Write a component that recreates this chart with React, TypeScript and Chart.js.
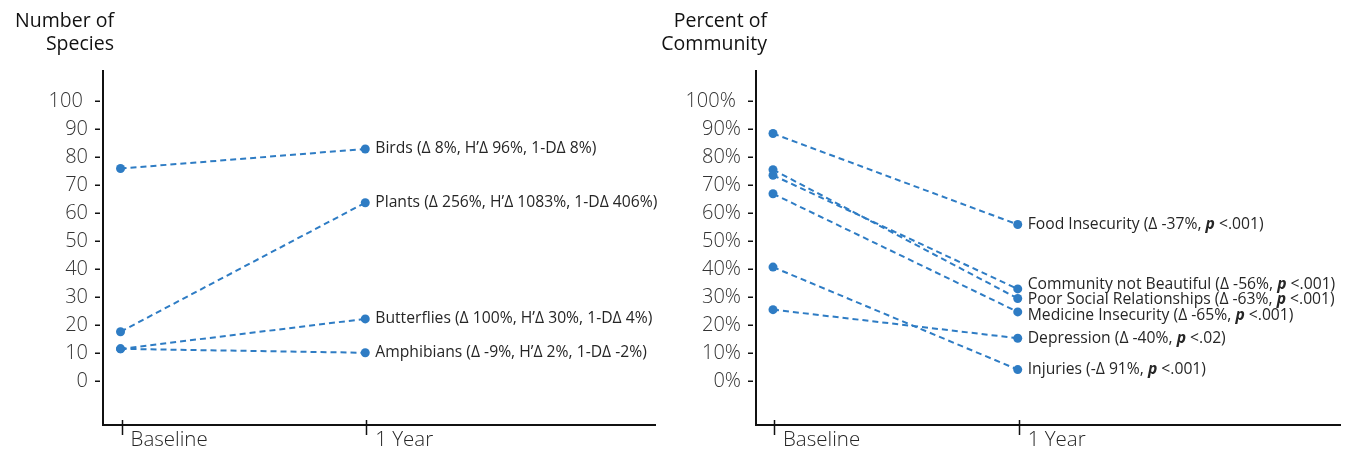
import React, { useEffect, useRef } from 'react';
import { Chart, registerables } from 'chart.js';

Chart.register(...registerables);

// ---------- data ----------
const periods = ['Baseline', '1 Year'];
const yTickValues = [0, 10, 20, 30, 40, 50, 60, 70, 80, 90, 100];

const speciesNames = ['Birds', 'Plants', 'Butterflies', 'Amphibians'];
const speciesBaseline = [76, 17.7, 11.6, 11.6];
const speciesYear1 = [83, 63.8, 22.3, 10.2];
const speciesNotes = [
  '(Δ 8%, H’Δ 96%, 1-DΔ 8%)',
  '(Δ 256%, H’Δ 1083%, 1-DΔ 406%)',
  '(Δ 100%, H’Δ 30%, 1-DΔ 4%)',
  '(Δ -9%, H’Δ 2%, 1-DΔ -2%)',
];

const communityNames = [
  'Food Insecurity',
  'Community not Beautiful',
  'Poor Social Relationships',
  'Medicine Insecurity',
  'Depression',
  'Injuries',
];
const communityBaseline = [88.5, 73.6, 75.6, 67.0, 25.6, 40.8];
const communityYear1 = [56.0, 33.0, 29.6, 24.8, 15.4, 4.2];
const communityDelta = ['Δ -37%', 'Δ -56%', 'Δ -63%', 'Δ -65%', 'Δ -40%', '-Δ 91%'];
const communityP = ['<.001', '<.001', '<.001', '<.001', '<.02', '<.001'];

// ---------- styles ----------
const BLUE = '#2E7CC4';
const FONT = '"Open Sans", "Noto Sans", sans-serif';

type Seg = { text: string; bold?: boolean; italic?: boolean };

function buildDatasets(base: number[], year: number[]) {
  return base.map((b, i) => ({
    data: [
      { x: 0, y: b },
      { x: 1, y: year[i] },
    ],
    showLine: true,
    borderColor: BLUE,
    backgroundColor: BLUE,
    borderWidth: 2,
    borderDash: [6, 4],
    pointRadius: 4.5,
    pointBackgroundColor: BLUE,
    pointBorderWidth: 0,
    clip: false as const,
  }));
}

function spreadLabels(ys: number[], gap: number): number[] {
  const order = ys.map((y, i) => ({ y, i })).sort((a, b) => a.y - b.y);
  let groups = order.map((o) => ({ members: [o], pos: [o.y] }));
  let changed = true;
  while (changed) {
    changed = false;
    for (let g = 0; g < groups.length - 1; g++) {
      const a = groups[g];
      const b = groups[g + 1];
      if (b.pos[0] - a.pos[a.pos.length - 1] < gap) {
        const members = [...a.members, ...b.members];
        const center = members.reduce((s, m) => s + m.y, 0) / members.length;
        const pos = members.map((_, k) => center + (k - (members.length - 1) / 2) * gap);
        groups.splice(g, 2, { members, pos });
        changed = true;
        break;
      }
    }
  }
  const out: number[] = new Array(ys.length);
  groups.forEach((g) => g.members.forEach((m, k) => (out[m.i] = g.pos[k])));
  return out;
}

function makeConfig(p: {
  base: number[];
  year: number[];
  labels: Seg[][];
  title: string[];
  tickLabel: (v: number) => string;
  axisWidth: number;
  padRight: number;
  xMin: number;
  xMax: number;
}) {
  const decor = {
    id: 'decor',
    beforeDatasetsDraw(chart: any) {
      const { ctx, chartArea } = chart;
      const xs = chart.scales.x;
      const ys = chart.scales.y;
      ctx.save();
      ctx.strokeStyle = '#111';
      ctx.lineWidth = 2;
      ctx.beginPath();
      ctx.moveTo(chartArea.left, chartArea.top);
      ctx.lineTo(chartArea.left, chartArea.bottom);
      ctx.lineTo(chartArea.right, chartArea.bottom);
      ctx.stroke();
      ctx.lineWidth = 1.5;
      ctx.beginPath();
      yTickValues.forEach((v) => {
        const py = Math.round(ys.getPixelForValue(v)) + 0.25;
        ctx.moveTo(chartArea.left - 8, py);
        ctx.lineTo(chartArea.left - 3, py);
      });
      [0, 1].forEach((v) => {
        const px = Math.round(xs.getPixelForValue(v)) + 1.5;
        ctx.moveTo(px, chartArea.bottom - 5);
        ctx.lineTo(px, chartArea.bottom + 10);
      });
      ctx.stroke();
      // axis title
      ctx.fillStyle = '#111';
      ctx.font = `19.5px ${FONT}`;
      ctx.textAlign = 'right';
      ctx.textBaseline = 'alphabetic';
      p.title.forEach((t, k) => ctx.fillText(t, chartArea.left + 11, 27 + k * 23));
      ctx.restore();
    },
    afterDatasetsDraw(chart: any) {
      const { ctx } = chart;
      const pts = p.labels.map((_, i) => chart.getDatasetMeta(i).data[1]);
      const yPos = spreadLabels(
        pts.map((pt: any) => pt.y),
        15.5
      );
      ctx.save();
      ctx.fillStyle = '#262626';
      ctx.textAlign = 'left';
      ctx.textBaseline = 'middle';
      p.labels.forEach((segs, i) => {
        let x = pts[i].x + 10;
        segs.forEach((s) => {
          ctx.font = `${s.italic ? 'italic ' : ''}${s.bold ? 'bold ' : ''}15.7px ${FONT}`;
          ctx.fillText(s.text, x, yPos[i]);
          x += ctx.measureText(s.text).width;
        });
      });
      ctx.restore();
    },
  };

  return {
    type: 'scatter' as const,
    data: { datasets: buildDatasets(p.base, p.year) },
    options: {
      responsive: false,
      animation: false as const,
      layout: { padding: { top: 70, right: p.padRight, left: 0, bottom: 0 } },
      plugins: { legend: { display: false }, tooltip: { enabled: false } },
      scales: {
        x: {
          type: 'linear' as const,
          position: 'bottom' as const,
          min: p.xMin,
          max: p.xMax,
          afterBuildTicks: (s: any) => {
            s.ticks = periods.map((_, k) => ({ value: k }));
          },
          afterFit: (s: any) => {
            s.height = 28;
          },
          grid: { display: false, drawTicks: false },
          border: { display: false },
          ticks: {
            callback: (v: any) => periods[v] ?? '',
            align: 'start' as const,
            labelOffset: 10,
            padding: 3,
            maxRotation: 0,
            autoSkip: false,
            color: '#262626',
            font: { family: FONT, size: 20.5, weight: 300 },
          },
        },
        y: {
          type: 'linear' as const,
          min: -15.6,
          max: 111.2,
          afterBuildTicks: (s: any) => {
            s.ticks = yTickValues.map((v) => ({ value: v }));
          },
          afterFit: (s: any) => {
            s.width = p.axisWidth;
          },
          grid: { display: false, drawTicks: false },
          border: { display: false },
          ticks: {
            callback: (v: any) => p.tickLabel(v),
            padding: 15,
            color: '#333',
            font: { family: FONT, size: 20, weight: 300 },
          },
        },
      },
    },
    plugins: [decor],
  };
}

function ChartCanvas({ config, left, width }: { config: any; left: number; width: number }) {
  const ref = useRef<HTMLCanvasElement>(null);
  useEffect(() => {
    const chart = new Chart(ref.current as HTMLCanvasElement, config);
    return () => chart.destroy();
  }, []);
  return (
    <canvas
      ref={ref}
      width={width}
      height={453}
      style={{ position: 'absolute', left, top: 0, width, height: 453 }}
    />
  );
}

export default function App() {
  const speciesLabels: Seg[][] = speciesNames.map((n, i) => [{ text: `${n} ${speciesNotes[i]}` }]);
  const communityLabels: Seg[][] = communityNames.map((n, i) => [
    { text: `${n} (${communityDelta[i]}, ` },
    { text: 'p', bold: true, italic: true },
    { text: ` ${communityP[i]})` },
  ]);

  const leftCfg = makeConfig({
    base: speciesBaseline,
    year: speciesYear1,
    labels: speciesLabels,
    title: ['Number of', 'Species'],
    tickLabel: (v) => (v === 100 ? '100 ' : String(v)),
    axisWidth: 103,
    padRight: 24,
    xMin: -0.0716,
    xMax: 2.188,
  });
  const rightCfg = makeConfig({
    base: communityBaseline,
    year: communityYear1,
    labels: communityLabels,
    title: ['Percent of', 'Community'],
    tickLabel: (v) => (v === 100 ? '100% ' : `${v}%`),
    axisWidth: 116,
    padRight: 5,
    xMin: -0.0695,
    xMax: 2.321,
  });

  return (
    <div style={{ position: 'absolute', left: 0, top: 0, width: 1346, height: 453, background: '#fff', overflow: 'hidden' }}>
      <ChartCanvas config={leftCfg} left={0} width={680} />
      <ChartCanvas config={rightCfg} left={640} width={706} />
    </div>
  );
}
